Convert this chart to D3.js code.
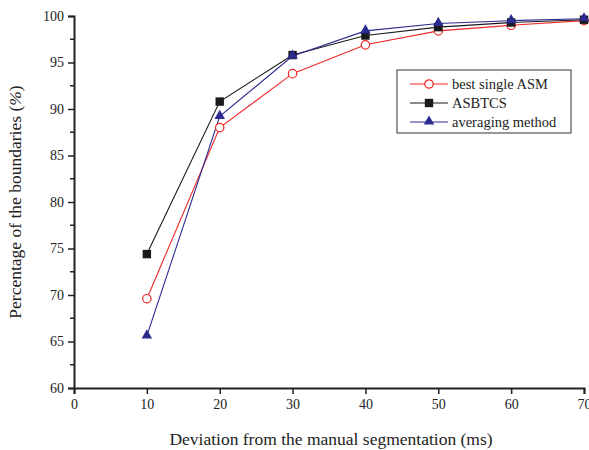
<!DOCTYPE html>
<html>
<head>
<meta charset="utf-8">
<script src="https://cdn.jsdelivr.net/npm/d3@7"></script>
<style>
  body { margin: 0; background: #fff; }
  text { font-family: "Liberation Serif", "Times New Roman", serif; fill: #222; }
</style>
</head>
<body>
<div id="chart"></div>
<script>
const deviation = [10, 20, 30, 40, 50, 60, 70];
const bestSingle = [69.6, 88.0, 93.8, 96.9, 98.4, 99.0, 99.5];
const asbtcs = [74.4, 90.8, 95.8, 97.9, 98.8, 99.3, 99.6];
const averaging = [65.6, 89.2, 95.7, 98.4, 99.2, 99.5, 99.7];
const xTicks = [0, 10, 20, 30, 40, 50, 60, 70];
const yTicks = [60, 65, 70, 75, 80, 85, 90, 95, 100];

const width = 589, height = 450;
const margin = {left: 74, right: 5, top: 16, bottom: 62};

const svg = d3.select('#chart').append('svg')
  .attr('width', width)
  .attr('height', height);

const x = d3.scaleLinear().domain([0, 70]).range([margin.left, width - margin.right]);
const y = d3.scaleLinear().domain([60, 100]).range([height - margin.bottom, margin.top]);

// axes
const xAxis = svg.append('g')
  .attr('transform', `translate(0,${y(60)})`)
  .call(d3.axisBottom(x).tickValues(xTicks).tickSize(6).tickPadding(5));
const yAxis = svg.append('g')
  .attr('transform', `translate(${x(0)},0)`)
  .call(d3.axisLeft(y).tickValues(yTicks).tickSize(6).tickPadding(4));
// minor y ticks
svg.append('g').selectAll('line')
  .data(d3.range(62.5, 100, 5))
  .enter().append('line')
  .attr('x1', x(0) - 4).attr('x2', x(0))
  .attr('y1', d => y(d)).attr('y2', d => y(d))
  .style('stroke', '#222').style('stroke-width', 1.5);

[xAxis, yAxis].forEach(a => {
  a.attr('font-family', null);
  a.select('.domain').style('stroke', '#222').style('stroke-width', 2);
  a.selectAll('.tick line').style('stroke', '#222').style('stroke-width', 1.5);
  a.selectAll('.tick text').style('font-size', '14px')
    .style('font-family', '"Liberation Serif", serif').style('fill', '#222');
});

// axis titles
svg.append('text')
  .attr('x', (x(0) + x(70)) / 2 + 2)
  .attr('y', 445)
  .attr('text-anchor', 'middle')
  .style('font-size', '17.5px')
  .text('Deviation from the manual segmentation (ms)');
svg.append('text')
  .attr('transform', `translate(21,${(y(60) + y(100)) / 2}) rotate(-90)`)
  .attr('text-anchor', 'middle')
  .style('font-size', '17.5px')
  .html('Percentage of the boundaries (<tspan font-style="italic">%</tspan>)');

const series = [
  {name: 'best single ASM', values: bestSingle, color: '#f02828', marker: 'circle'},
  {name: 'ASBTCS', values: asbtcs, color: '#1a1a1a', marker: 'square'},
  {name: 'averaging method', values: averaging, color: '#2b2b8f', marker: 'triangle'}
];

const line = d3.line().x((d, i) => x(deviation[i])).y(d => y(d));

function drawMarker(g, type, color, cx, cy) {
  if (type === 'circle') {
    g.append('circle').attr('cx', cx).attr('cy', cy).attr('r', 4.2)
      .style('fill', '#fff').style('stroke', color).style('stroke-width', 1.2);
  } else if (type === 'square') {
    g.append('rect').attr('x', cx - 4.2).attr('y', cy - 4.2)
      .attr('width', 8.4).attr('height', 8.4).style('fill', color);
  } else {
    g.append('path')
      .attr('d', d3.symbol().type(d3.symbolTriangle).size(48)())
      .attr('transform', `translate(${cx},${cy - 0.5})`)
      .style('fill', color);
  }
}

series.forEach(s => {
  svg.append('path')
    .datum(s.values)
    .attr('d', line)
    .style('fill', 'none')
    .style('stroke', s.color)
    .style('stroke-width', 1.1);
});
series.forEach(s => {
  const g = svg.append('g');
  s.values.forEach((v, i) => drawMarker(g, s.marker, s.color, x(deviation[i]), y(v)));
});

// legend
const legend = svg.append('g').attr('transform', 'translate(397,70)');
legend.append('rect')
  .attr('width', 174).attr('height', 63)
  .style('fill', '#fff').style('stroke', '#333').style('stroke-width', 1);
series.forEach((s, i) => {
  const ly = 14 + i * 19;
  legend.append('line')
    .attr('x1', 13).attr('x2', 51).attr('y1', ly).attr('y2', ly)
    .style('stroke', s.color).style('stroke-width', 1.1);
  drawMarker(legend, s.marker, s.color, 32, ly);
  legend.append('text')
    .attr('x', 55).attr('y', ly + 5)
    .style('font-size', '14.5px')
    .text(s.name);
});
</script>
</body>
</html>
